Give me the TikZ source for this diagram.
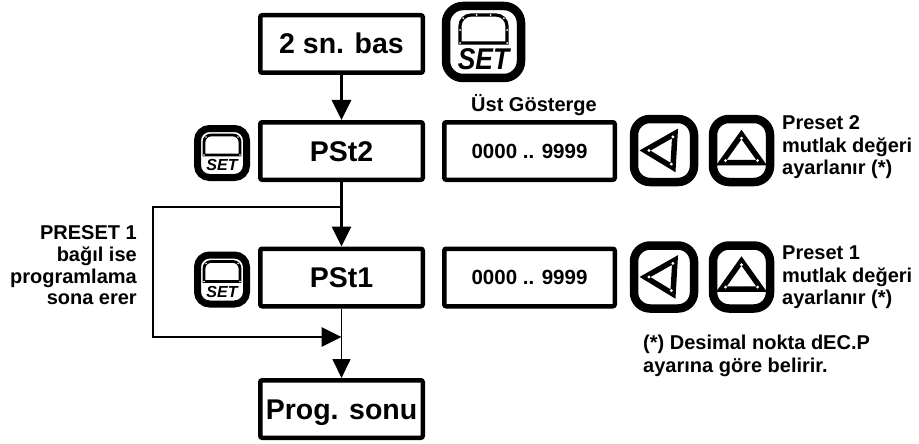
\documentclass[tikz,border=0pt]{standalone}
\usepackage{fontspec}
\setmainfont{Liberation Sans}
\usetikzlibrary{arrows.meta}
\tikzset{
  box/.style={draw, line width=4.5pt, rounded corners=2pt, minimum width=162.5pt, minimum height=57.5pt,
    inner sep=0pt, text height=20pt, text depth=0pt, font=\fontsize{28.5}{30}\selectfont\bfseries},
  dispbox/.style={box, minimum width=170.5pt, text height=14.5pt, font=\fontsize{20.5}{24}\selectfont\bfseries},
  lbl/.style={font=\fontsize{20}{22.5}\selectfont\bfseries, inner sep=0pt},
  flow/.style={line width=2.8pt},
  conn/.style={line width=2.8pt, -{Triangle[length=20pt,width=19pt]}},
  thinconn/.style={line width=1.8pt, -{Triangle[length=19pt,width=18pt]}},
  dot/.style={fill=white},
  btnframe/.style={line width=8.5pt, rounded corners=16pt},
  tri/.style={line width=5.5pt, line join=miter},
  smallset/.pic={
    \draw[line width=7pt, rounded corners=12pt] (-24.5,-24.5) rectangle (24.5,24.5);
    \draw[line width=2.8pt] (-18,2) -- (-18,-11) arc[start angle=180,end angle=270,radius=7]
      -- (11,-18) arc[start angle=270,end angle=360,radius=7] -- (18,2) -- cycle;
    \foreach \p in {(-18,2),(18,2),(-16,-16),(16,-16)} \fill[dot] \p circle[radius=0.9];
    \node[inner sep=0pt, font=\fontsize{16}{16}\selectfont\bfseries\itshape] at (0,12) {SET};
  },
  bigset/.pic={
    \draw[line width=8.5pt, rounded corners=17pt] (-37.5,-36) rectangle (37.5,36);
    \draw[line width=3.2pt] (-23.5,1) -- (-23.5,-16) arc[start angle=180,end angle=270,radius=11]
      -- (12.5,-27) arc[start angle=270,end angle=360,radius=11] -- (23.5,1) -- cycle;
    \foreach \p in {(-23.5,1),(23.5,1),(-20.3,-23.8),(20.3,-23.8),(-7,-27),(7,-27),(-23.5,-12),(23.5,-12)} \fill[dot] \p circle[radius=1];
    \node[inner sep=0pt, xscale=0.88, transform shape, font=\fontsize{30}{30}\selectfont\bfseries\itshape] at (0,17.5) {SET};
  },
  leftbtn/.pic={
    \draw[btnframe] (-30,-31.5) rectangle (30,31.5);
    \draw[tri] (-19,0) -- (11,-17) -- (9,17) -- cycle;
    \foreach \p in {(-15,0),(8.9,-13.6),(7.3,13.6)} \fill[dot] \p circle[radius=1.6];
  },
  upbtn/.pic={
    \draw[btnframe] (-28.5,-31.5) rectangle (28.5,31.5);
    \draw[tri] (0,-16) -- (20,12) -- (-20,12) -- cycle;
    \foreach \p in {(0,-12.3),(-16,10.1),(16,10.1)} \fill[dot] \p circle[radius=1.6];
  }
}
\begin{document}
\begin{tikzpicture}[x=1pt,y=-1pt]
\useasboundingbox (0,0) rectangle (919,444);
% main flow boxes
\node[box] (b1) at (341.5,44) {2 sn. bas};
\node[box] (pst2) at (341.5,151) {PSt2};
\node[box] (pst1) at (341.5,277.5) {PSt1};
\node[box] (prog) at (341.5,409) {Prog. sonu};
% display boxes
\node[dispbox] (d1) at (529.5,151) {0000 .. 9999};
\node[dispbox] (d2) at (529.5,277.5) {0000 .. 9999};
\node[lbl] (ust) at (534,105) {Üst Gösterge};
% icons
\pic (bigs) at (483.5,42) {bigset};
\pic (s1) at (222,153) {smallset};
\pic (s2) at (222,279.5) {smallset};
\pic (l1) at (664,150.5) {leftbtn};
\pic (u1) at (741.5,150.5) {upbtn};
\pic (l2) at (664,277) {leftbtn};
\pic (u2) at (741.5,277) {upbtn};
% right texts
\node[lbl, anchor=west, align=left] (t1) at (782,147.5) {Preset 2\\mutlak değeri\\ayarlanır (*)};
\node[lbl, anchor=west, align=left] (t2) at (782,277.5) {Preset 1\\mutlak değeri\\ayarlanır (*)};
\node[lbl, anchor=west, align=left] (fn) at (643,356) {(*) Desimal nokta dEC.P\\ayarına göre belirir.};
\node[lbl, anchor=east, align=right, font=\fontsize{20}{21.7}\selectfont\bfseries] (lt) at (137,265.5) {PRESET 1\\bağıl ise\\programlama\\sona erer};
% connectors
\coordinate (split) at (341.5,207);
\coordinate (lc1) at (153,207);
\coordinate (lc2) at (153,337);
\coordinate (join) at (341.5,337);
\draw[conn] (b1) -- (pst2);
\draw[flow] (pst2) -- (split);
\draw[conn] (split) -- (pst1);
\draw[conn, line join=miter] (split) -- (lc1) -- (lc2) -- (join);
\draw[thinconn] (pst1) -- (prog);
\end{tikzpicture}
\end{document}
